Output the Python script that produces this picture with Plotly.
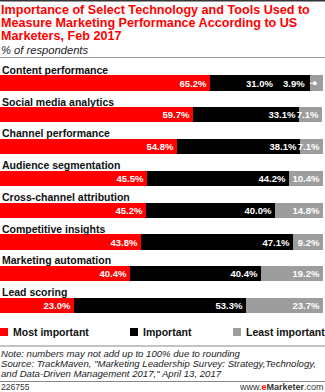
import plotly.graph_objects as go

categories = ["Content performance", "Social media analytics", "Channel performance",
              "Audience segmentation", "Cross-channel attribution", "Competitive insights",
              "Marketing automation", "Lead scoring"]
most_important = [65.2, 59.7, 54.8, 45.5, 45.2, 43.8, 40.4, 23.0]
important = [31.0, 33.1, 38.1, 44.2, 40.0, 47.1, 40.4, 53.3]
least_important = [3.9, 7.1, 7.1, 10.4, 14.8, 9.2, 19.2, 23.7]
series_names = ["Most important", "Important", "Least important"]
colors = ["#ff0000", "#000000", "#9d9d9d"]

W, H = 325, 392
def py(px):
    return 1 - px / H

FONT = "Liberation Sans, Arial, sans-serif"
LBL = dict(color="white", size=9.5, family=FONT, weight="bold")
fig = go.Figure()
series = [most_important, important, least_important]
for si, (name, vals, col) in enumerate(zip(series_names, series, colors)):
    # first row's black and gray labels are placed by hand (narrow segment)
    positions = ["none" if (i == 0 and si > 0) else "inside" for i in range(len(vals))]
    fig.add_trace(go.Bar(
        y=categories, x=vals, name=name, orientation="h",
        marker=dict(color=col, line=dict(width=0)),
        text=[f"{v:.1f}%" for v in vals],
        textposition=positions, insidetextanchor="end", constraintext="none",
        textfont=LBL, insidetextfont=LBL, textangle=0,
        width=0.477, showlegend=False, hoverinfo="skip",
    ))

# first row: labels shifted left to make room for the narrow gray segment
end_black = most_important[0] + important[0]
fig.add_annotation(x=end_black, y=categories[0], xref="x", yref="y",
                   text=f"{important[0]:.1f}%", showarrow=False, xanchor="right",
                   yanchor="middle", xshift=-35, font=LBL)
fig.add_annotation(x=end_black, y=categories[0], xref="x", yref="y",
                   text=f"{least_important[0]:.1f}%", showarrow=False, xanchor="right",
                   yanchor="middle", xshift=-3, font=LBL)
lead_end = end_black + least_important[0] * 0.35
fig.add_shape(type="line", xref="x", yref="y", x0=end_black - 0.2, x1=lead_end,
              y0=categories[0], y1=categories[0], line=dict(color="white", width=1))
fig.add_trace(go.Scatter(x=[lead_end], y=[categories[0]], mode="markers",
                         marker=dict(color="white", size=4, line=dict(width=0)),
                         showlegend=False, hoverinfo="skip"))

# category labels above bars
for c in categories:
    fig.add_annotation(x=0, y=c, xref="paper", yref="y", text=f"<b>{c}</b>",
                       showarrow=False, xanchor="left", yanchor="middle", yshift=13.5,
                       font=dict(size=10.5, color="#111", family=FONT))

top_px, bot_px = 67.25, 327.25
fig.update_layout(
    width=W, height=H, margin=dict(l=0, r=0, t=0, b=0),
    paper_bgcolor="white", plot_bgcolor="white", barmode="stack",
    bargap=0,
    xaxis=dict(range=[0, 100.1], domain=[0, 323 / W], visible=False, fixedrange=True),
    yaxis=dict(categoryorder="array", categoryarray=categories, autorange="reversed",
               domain=[py(bot_px), py(top_px)], visible=False, fixedrange=True),
)

# title
title_lines = ["Importance of Select Technology and Tools Used to",
               "Measure Marketing Performance According to US",
               "Marketers, Feb 2017"]
for i, t in enumerate(title_lines):
    fig.add_annotation(x=0, y=py(9.5 + 13 * i), xref="paper", yref="paper", text=f"<b>{t}</b>",
                       showarrow=False, xanchor="left", yanchor="middle", xshift=-1,
                       font=dict(size=12.6, color="#ff0000", family=FONT))
fig.add_annotation(x=0, y=py(50), xref="paper", yref="paper", text="<i>% of respondents</i>",
                   showarrow=False, xanchor="left", yanchor="middle", xshift=-1,
                   font=dict(size=11.2, color="#222", family=FONT))

# lines
fig.add_shape(type="line", xref="paper", yref="paper", x0=0, x1=1, y0=py(0.75), y1=py(0.75),
              line=dict(color="#333", width=1.5))
fig.add_shape(type="line", xref="paper", yref="paper", x0=0, x1=1, y0=py(57.5), y1=py(57.5),
              line=dict(color="#999", width=1))
fig.add_shape(type="line", xref="paper", yref="paper", x0=0, x1=1, y0=py(346), y1=py(346),
              line=dict(color="#888", width=1))
fig.add_shape(type="line", xref="paper", yref="paper", x0=0, x1=1, y0=py(381.5), y1=py(381.5),
              line=dict(color="#888", width=1))

# legend
leg_x = [0, 130, 233]
for name, col, lx in zip(series_names, colors, leg_x):
    fig.add_shape(type="rect", xref="paper", yref="paper", x0=lx / W, x1=(lx + 8) / W,
                  y0=py(336), y1=py(328), fillcolor=col, line=dict(width=0))
    fig.add_annotation(x=(lx + 11) / W, y=py(332), xref="paper", yref="paper",
                       text=f"<b>{name}</b>", showarrow=False, xanchor="left", yanchor="middle",
                       font=dict(size=10.5, color="#111", family=FONT))

# notes
notes = ["Note: numbers may not add up to 100% due to rounding",
         "Source: TrackMaven, \"Marketing Leadership Survey: Strategy,Technology,",
         "and Data-Driven Management 2017,\" April 13, 2017"]
for i, t in enumerate(notes):
    fig.add_annotation(x=0, y=py(353.3 + 10.2 * i), xref="paper", yref="paper", text=f"<i>{t}</i>",
                       showarrow=False, xanchor="left", yanchor="middle", xshift=-1,
                       font=dict(size=9.6, color="#222", family=FONT))
fig.add_annotation(x=0, y=py(387), xref="paper", yref="paper", text="226755",
                   showarrow=False, xanchor="left", yanchor="middle", xshift=-1,
                   font=dict(size=8.5, color="#333", family=FONT))
fig.add_annotation(x=1, y=py(387), xref="paper", yref="paper",
                   text="www.<span style='color:#ff0000'><b>e</b></span><b>Marketer</b>.com",
                   showarrow=False, xanchor="right", yanchor="middle", xshift=1,
                   font=dict(size=9, color="#333", family=FONT))

fig.write_html("out.html")
